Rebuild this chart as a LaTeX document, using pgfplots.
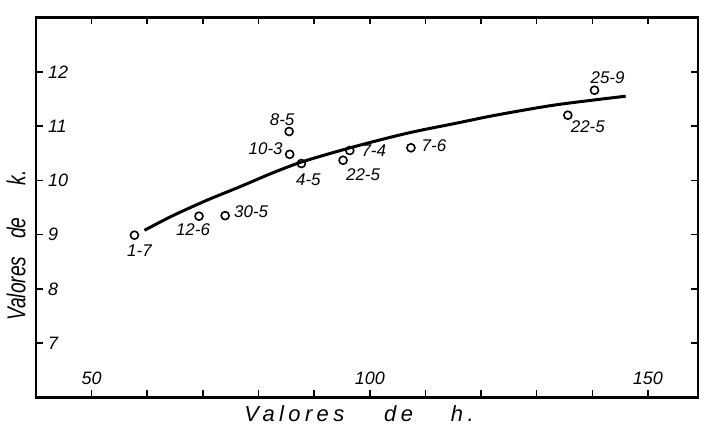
\documentclass[border=0pt]{standalone}
\usepackage{fontspec}
\setmainfont{Liberation Sans}
\usepackage{graphicx}
\usepackage{pgfplots}
\pgfplotsset{compat=1.18}
\usepackage{pgfplotstable}

\pgfplotstableread{
x y lab dx dy
57.7 8.99 1-7 2.5 -7.5
69.3 9.34 12-6 -3 -6.5
74.0 9.35 30-5 13 2
85.5 10.90 8-5 -3.5 6
85.6 10.48 10-3 -12 3
87.7 10.31 4-5 3.5 -8
95.2 10.37 22-5 10 -7
96.4 10.55 7-4 12 0
107.4 10.60 7-6 11.5 1
135.6 11.20 22-5 10 -5.5
140.4 11.66 25-9 6.5 6.5
}\points

\pgfplotstableread{
x y
59.5 9.08
64.4 9.34
70.4 9.62
76.6 9.88
82.6 10.14
88.1 10.35
97.2 10.62
106.8 10.87
115.9 11.06
122.6 11.20
133.4 11.39
146.0 11.55
}\curve

\begin{document}
\begin{tikzpicture}
\useasboundingbox (0,0) rectangle (350.5bp,212.5bp);
\begin{axis}[
  at={(18bp,13.75bp)}, anchor=south west,
  scale only axis, width=331bp, height=190bp,
  xmin=40, xmax=159, ymin=6, ymax=13,
  axis line style={line width=1.2bp},
  tick align=inside, major tick length=3.5bp,
  tick style={line width=0.8bp, black},
  xtick={50,60,...,150}, xticklabels={50,,,,,100,,,,,150},
  ytick={7,8,...,12},
  xticklabel style={anchor=south, yshift=2.7bp},
  yticklabel style={anchor=west, xshift=2.5bp},
  tick label style={font=\fontsize{9}{10}\selectfont\itshape},
  /pgf/number format/assume math mode=true,
  xlabel={\fontsize{11}{12}\selectfont\itshape\addfontfeatures{LetterSpace=20}Valores\hspace{20bp}de\hspace{19bp}h.},
  xlabel style={at={(axis description cs:0.488,0)}, anchor=center, yshift=-8.3bp},
  ylabel={\fontsize{13}{14}\selectfont\itshape\scalebox{0.74}[1]{Valores\hspace{12bp}de\hspace{22bp}k.}},
  ylabel style={at={(axis description cs:0,0.40)}, anchor=center, yshift=10bp},
]
\addplot[black, line width=1.5bp, smooth] table {\curve};
\addplot[only marks, mark=o, mark size=2bp, mark options={line width=0.8bp, black},
  point meta=explicit symbolic, nodes near coords,
  visualization depends on={\thisrow{dx} \as \dx},
  visualization depends on={\thisrow{dy} \as \dy},
  every node near coord/.append style={anchor=center, xshift=\dx*1bp, yshift=\dy*1bp,
    font=\fontsize{8.5}{9}\selectfont\itshape, inner sep=0pt}]
  table[x=x, y=y, meta=lab] {\points};
\end{axis}
\end{tikzpicture}
\end{document}
